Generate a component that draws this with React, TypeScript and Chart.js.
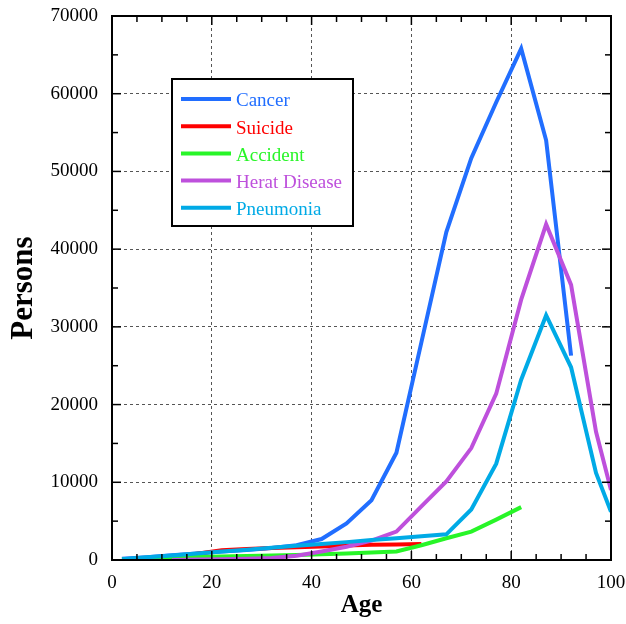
import React, { useEffect, useRef } from 'react';
import { Chart, registerables } from 'chart.js';

Chart.register(...registerables);

// ---- data ----
const ages = [2, 7, 12, 17, 22, 27, 32, 37, 42, 47, 52, 57, 62, 67, 72, 77, 82, 87, 92, 97, 100];
const cancer = [150, 350, 600, 850, 1100, 1300, 1550, 1900, 2700, 4700, 7700, 13800, 28000, 42200, 51700, 58900, 65800, 54000, 26300, null, null];
const suicide = [0, 0, 300, 800, 1250, 1400, 1550, 1650, 1750, 1850, 1950, 2000, 2050, null, null, null, null, null, null, null, null];
const accident = [100, 200, 300, 400, 450, 520, 580, 650, 750, 850, 950, 1100, 1900, 2800, 3650, 5200, 6800, null, null, null, null];
const heartDisease = [null, null, 0, 50, 100, 150, 250, 550, 1100, 1700, 2500, 3650, 6900, 10100, 14400, 21400, 33500, 43200, 35400, 16500, 9000];
const pneumonia = [100, 350, 590, 840, 1080, 1330, 1580, 1820, 2070, 2300, 2560, 2800, 3050, 3300, 6500, 12400, 23200, 31500, 24800, 11200, 6200];

const seriesLabels = ['Cancer', 'Suicide', 'Accident', 'Herat Disease', 'Pneumonia'];
const seriesColors = ['rgb(33,110,255)', 'rgb(255,0,0)', 'rgb(40,245,40)', 'rgb(190,80,220)', 'rgb(0,170,230)'];
const seriesValues = [cancer, suicide, accident, heartDisease, pneumonia];

const xMajorTicks = [0, 20, 40, 60, 80, 100];
const yMajorTicks = [0, 10000, 20000, 30000, 40000, 50000, 60000, 70000];
const xMinorTicks = [0, 5, 10, 15, 20, 25, 30, 35, 40, 45, 50, 55, 60, 65, 70, 75, 80, 85, 90, 95, 100];
const yMinorTicks = [0, 5000, 10000, 15000, 20000, 25000, 30000, 35000, 40000, 45000, 50000, 55000, 60000, 65000, 70000];

const FONT = "'Liberation Serif', 'Times New Roman', serif";

const framePlugin = {
  id: 'frameAndLegend',
  afterDatasetsDraw(chart: any) {
    const { ctx, chartArea: a, scales } = chart;
    const xs = scales.x;
    const ys = scales.y;
    ctx.save();
    ctx.strokeStyle = '#000';
    ctx.lineWidth = 1.5;
    ctx.setLineDash([]);
    const seg = (x1: number, y1: number, x2: number, y2: number) => {
      ctx.beginPath();
      ctx.moveTo(x1, y1);
      ctx.lineTo(x2, y2);
      ctx.stroke();
    };
    for (const v of xMinorTicks) {
      const px = xs.getPixelForValue(v);
      const len = xMajorTicks.includes(v) ? 9 : 6;
      seg(px, a.bottom, px, a.bottom - len);
      seg(px, a.top, px, a.top + len);
    }
    for (const v of yMinorTicks) {
      const py = ys.getPixelForValue(v);
      const len = yMajorTicks.includes(v) ? 9 : 6;
      seg(a.left, py, a.left + len, py);
      seg(a.right, py, a.right - len, py);
    }
    ctx.lineWidth = 2;
    ctx.strokeRect(a.left, a.top, a.right - a.left, a.bottom - a.top);

    // legend box
    const bx = a.left + 60;
    const by = a.top + 63;
    const bw = 181;
    const bh = 147;
    ctx.fillStyle = '#fff';
    ctx.fillRect(bx, by, bw, bh);
    ctx.lineWidth = 2;
    ctx.strokeRect(bx, by, bw, bh);
    ctx.font = `19px ${FONT}`;
    ctx.textBaseline = 'middle';
    ctx.textAlign = 'left';
    seriesLabels.forEach((label, i) => {
      const ly = by + 20 + i * 27.2;
      ctx.strokeStyle = seriesColors[i];
      ctx.lineWidth = 4;
      seg(bx + 9, ly, bx + 59, ly);
      ctx.fillStyle = seriesColors[i];
      ctx.fillText(label, bx + 64, ly + 2.5);
    });
    ctx.restore();
  },
};

export default function App() {
  const ref = useRef<HTMLCanvasElement | null>(null);
  useEffect(() => {
    document.body.style.margin = '0';
    const canvas = ref.current;
    if (!canvas) return;
    const datasets = seriesLabels.map((label, i) => ({
      label,
      data: ages
        .map((age, j) => ({ x: age, y: seriesValues[i][j] }))
        .filter((p) => p.y !== null),
      borderColor: seriesColors[i],
      backgroundColor: seriesColors[i],
      borderWidth: 4,
      pointRadius: 0,
      tension: 0,
      fill: false,
      order: 5 - i,
    }));
    const chart = new Chart(canvas, {
      type: 'line',
      data: { datasets },
      options: {
        animation: false,
        responsive: false,
        devicePixelRatio: 1,
        layout: { padding: { top: 16, right: 15, left: 0, bottom: 0 } },
        plugins: { legend: { display: false }, tooltip: { enabled: false } },
        scales: {
          x: {
            type: 'linear',
            min: 0,
            max: 100,
            afterBuildTicks: (s: any) => {
              s.ticks = xMajorTicks.map((v) => ({ value: v }));
            },
            afterFit: (s: any) => {
              s.height = 64;
              s.paddingLeft = 0;
              s.paddingRight = 0;
            },
            grid: { color: '#555', lineWidth: 1, drawTicks: false },
            border: { display: false, dash: [3, 3] },
            ticks: {
              color: '#000',
              font: { family: FONT, size: 19 },
              padding: 12,
              maxRotation: 0,
              callback: (v: any) => String(v),
            },
            title: {
              display: true,
              text: 'Age',
              color: '#000',
              font: { family: FONT, size: 25, weight: 'bold' },
              padding: { top: 0, bottom: 3 },
            },
          },
          y: {
            type: 'linear',
            min: 0,
            max: 70000,
            afterBuildTicks: (s: any) => {
              s.ticks = yMajorTicks.map((v) => ({ value: v }));
            },
            afterFit: (s: any) => {
              s.width = 112;
              s.paddingTop = 0;
              s.paddingBottom = 0;
            },
            grid: { color: '#555', lineWidth: 1, drawTicks: false },
            border: { display: false, dash: [3, 3] },
            ticks: {
              color: '#000',
              font: { family: FONT, size: 19 },
              padding: 14,
              callback: (v: any) => String(v),
            },
            title: {
              display: true,
              text: 'Persons',
              color: '#000',
              font: { family: FONT, size: 31, weight: 'bold' },
              padding: { top: 5, bottom: 0 },
            },
          },
        },
      },
      plugins: [framePlugin],
    } as any);
    return () => chart.destroy();
  }, []);
  return <canvas ref={ref} width={626} height={624} style={{ display: 'block' }} />;
}
